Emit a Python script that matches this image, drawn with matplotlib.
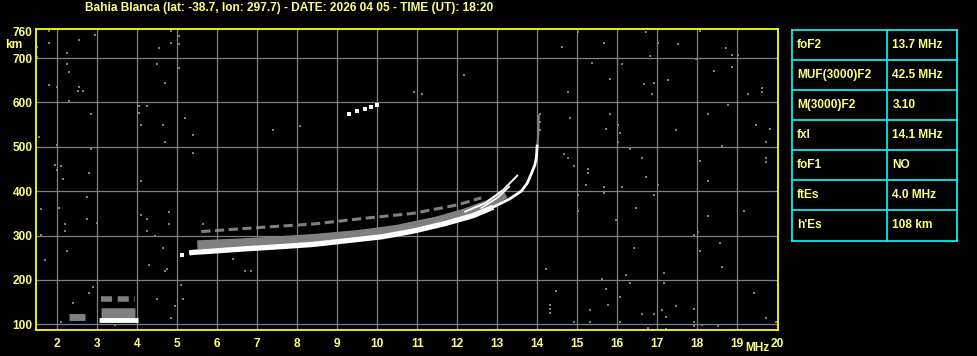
import numpy as np
import matplotlib
matplotlib.use("Agg")
import matplotlib.pyplot as plt

FONT = ['Liberation Sans', 'DejaVu Sans']
YEL = '#ffff80'
FS = 8.6
plt.rcParams['font.family'] = FONT

# ionogram traces (MHz, km)
o_freq = [5.3, 5.4, 5.9, 6.7, 7.6, 8.4, 9.2, 10.1, 10.9, 11.7, 12.4, 12.9, 13.3, 13.6, 13.75, 13.86, 13.94, 13.98, 14.0]
o_height = [261, 262, 265, 270, 275, 280, 288, 297, 310, 327, 345, 364, 382, 400, 418, 441, 459, 477, 505]
x_freq = [12.2, 12.7, 13.15, 13.5]
x_height = [354, 373, 403, 435]
x2_freq = [12.6, 13.0, 13.3]
x2_height = [362, 385, 410]
grey_freq = [5.5, 6.5, 7.5, 8.5, 9.5, 10.5, 11.5, 12.2, 12.8, 13.2]
grey_height = [279, 283, 288, 294, 302, 314, 333, 351, 371, 394]
upper_freq = [5.6, 7.2, 8.4, 9.7, 10.9, 12.0, 12.6]
upper_height = [309, 319, 326, 339, 350, 369, 385]
top_freq = [14.0, 14.03, 14.04]
top_height = [500, 530, 570]
hop_freq = [9.3, 9.5, 9.7, 9.85, 10.0]
hop_height = [575, 580, 585, 589, 594]
es_freq = [3.05, 4.02]
es_height = [110, 110]

# background noise dots
noise_f = [1.79, 1.79, 1.49, 1.49, 2.54, 2.94, 2.24, 2.24, 2.29, 1.79, 1.99, 2.54, 2.51, 2.64, 2.29, 2.84,
           1.54, 1.99, 2.84, 1.94, 2.09, 1.99, 2.79, 2.14, 2.74, 1.59, 2.04, 2.74, 2.99, 2.19, 2.19, 1.59,
           2.24, 1.69, 4.84, 5.04, 4.84, 5.04, 4.54, 4.49, 5.04, 4.69, 4.04, 4.24, 4.04, 4.09, 4.64, 5.19,
           5.39, 7.39, 4.69, 5.39, 4.09, 4.79, 4.09, 4.24, 4.79, 4.24, 4.44, 4.64, 4.29, 4.69, 4.74, 5.64,
           6.39, 6.69, 6.84, 5.09, 5.14, 4.94, 4.84, 4.49, 2.89, 2.79, 2.39, 2.09, 3.44,
           12.18, 10.93, 11.13, 8.08,
           15.03, 16.73, 18.08, 14.63, 15.68, 17.03, 17.53, 18.73, 18.88, 19.03, 16.83, 17.98, 15.38, 16.13,
           18.43, 18.88, 15.83, 17.28, 16.68, 16.93, 14.78, 16.88, 19.28, 19.63, 19.63, 18.78, 14.08, 15.83,
           18.28, 14.83, 14.08, 14.08, 16.03, 15.73, 16.08, 17.48, 19.48, 19.83, 14.03, 16.03, 19.73, 16.33,
           18.63, 14.68, 14.78, 16.63, 18.08, 19.73, 19.73, 14.93, 15.28, 15.28, 16.73, 18.28, 15.23, 15.68,
           16.13, 17.03, 15.68, 15.03, 16.93, 15.03, 16.48, 15.98, 19.18, 18.28, 17.93, 18.03, 18.58, 16.43,
           18.08, 18.63, 14.23, 17.18, 16.23, 15.63, 17.18, 16.33, 14.48, 15.73, 19.43, 16.08, 14.33, 14.33,
           14.33, 17.48, 17.93, 15.33, 15.78, 17.13, 16.63, 16.93, 17.23, 14.93, 15.33, 16.08, 17.93, 18.13,
           18.53, 17.93, 16.76, 17.23, 19.73, 19.98]
noise_h = [762, 735, 726, 703, 740, 753, 712, 686, 668, 640, 636, 636, 627, 627, 604, 573,
           523, 505, 496, 460, 456, 447, 440, 428, 388, 359, 361, 338, 329, 325, 311, 301,
           264, 244, 762, 749, 735, 731, 722, 687, 677, 645, 591, 591, 577, 550, 550, 564,
           526, 539, 512, 487, 424, 352, 347, 338, 325, 311, 298, 271, 234, 221, 225, 325,
           248, 221, 221, 189, 158, 140, 113, 158, 185, 171, 149, 104, 99,
           663, 623, 620, 548,
           758, 758, 762, 726, 735, 735, 731, 722, 708, 708, 704, 699, 690, 686,
           672, 681, 654, 650, 641, 645, 623, 618, 618, 632, 623, 595, 573, 575,
           573, 564, 555, 539, 550, 541, 532, 537, 550, 541, 523, 510, 510, 496,
           501, 483, 474, 474, 469, 474, 465, 456, 451, 442, 433, 424, 415, 410,
           410, 415, 397, 392, 392, 356, 361, 334, 356, 343, 302, 307, 284, 271,
           266, 230, 225, 216, 212, 203, 192, 194, 176, 180, 171, 162, 144, 135,
           126, 140, 135, 131, 144, 131, 124, 122, 117, 106, 104, 104, 104, 99,
           95, 95, 92, 90, 113, 104]

x_ticks = list(range(2, 21))
y_ticks = [100, 200, 300, 400, 500, 600, 700]

title = 'Bahia Blanca (lat: -38.7, lon: 297.7) - DATE: 2026 04 05 - TIME (UT): 18:20'
params = ['foF2', 'MUF(3000)F2', 'M(3000)F2', 'fxI', 'foF1', 'ftEs', "h'Es"]
values = ['13.7 MHz', '42.5 MHz', '3.10', '14.1 MHz', 'NO', '4.0 MHz', '108 km']

fig = plt.figure(figsize=(9.78, 3.56), dpi=100, facecolor='black')
ax = fig.add_axes([35.5 / 978, 1 - 330 / 356, (778 - 35.5) / 978, (330 - 29.3) / 356])
ax.set_facecolor('black')
ax.set_xlim(1.455, 20.02)
ax.set_ylim(87, 765)

# grid
for f in x_ticks[:-1]:
    ax.axvline(f, color='#808080', lw=0.9, zorder=0)
for h in y_ticks:
    ax.axhline(h, color='#808080', lw=0.9, zorder=0)

ax.scatter(noise_f, noise_h, marker='s', s=2.2, color='#808080', lw=0, zorder=1)

# Es layer
ax.plot([2.3, 2.7], [116, 116], color='#808080', lw=5, solid_capstyle='butt', zorder=2)
ax.plot([3.1, 3.95], [124, 124], color='#808080', lw=9, solid_capstyle='butt', zorder=2)
ax.plot([3.1, 3.95], [156, 156], color='#808080', lw=4, ls=(0, (2, 1)), zorder=2)
ax.plot(es_freq, es_height, color='white', lw=3.5, solid_capstyle='butt', zorder=3)

# F2 layer
ax.plot(grey_freq, grey_height, color='#808080', lw=6.5, solid_capstyle='butt', zorder=2)
ax.plot(upper_freq, upper_height, color='#808080', lw=2.2, ls=(0, (3, 1.5)), zorder=2)
ax.plot(top_freq, top_height, color='#808080', lw=1.5, zorder=2)
o_f = np.array(o_freq)
o_h = np.array(o_height)
thick = o_f <= 12.9
ax.plot(o_f[thick], o_h[thick], color='white', lw=3.8, solid_capstyle='butt', zorder=3)
ax.plot(o_f, o_h, color='white', lw=2.0, solid_capstyle='butt', zorder=3)
ax.plot(x_freq, x_height, color='white', lw=1.4, zorder=3)
ax.plot(x2_freq, x2_height, color='white', lw=1.2, zorder=3)
ax.scatter([5.12], [257], marker='s', s=5, color='white', lw=0, zorder=3)
ax.scatter(hop_freq, hop_height, marker='s', s=5, color='white', lw=0, zorder=3)

for sp in ax.spines.values():
    sp.set_color('#ffff00')
    sp.set_linewidth(1.3)
ax.tick_params(length=0, colors=YEL)
ax.set_xticks(x_ticks)
ax.set_xticklabels([str(t) for t in x_ticks], fontsize=FS, fontweight='bold', color=YEL)
ax.set_yticks(y_ticks + [760])
ax.set_yticklabels([str(t) for t in y_ticks + [760]], fontsize=FS, fontweight='bold', color=YEL)
ax.tick_params(axis='x', pad=6)
ax.tick_params(axis='y', pad=2)

fig.text(5 / 978, 1 - 45 / 356, 'km', color=YEL, fontsize=FS, fontweight='bold', va='center', ha='left')
fig.text(745 / 978, 1 - 348 / 356, 'MHz', color=YEL, fontsize=FS, fontweight='bold', va='center', ha='left')
fig.text(85 / 978, 1 - 8 / 356, title, color=YEL, fontsize=FS, fontweight='bold', va='center', ha='left')

# parameter table
tb = fig.add_axes([792 / 978, 1 - 240.5 / 356, (957.5 - 792) / 978, (240.5 - 30.3) / 356])
tb.set_xlim(0, 1)
tb.set_ylim(len(params), 0)
tb.axis('off')
cyan = '#00ffff'
for i in range(len(params) + 1):
    tb.plot([0, 1], [i, i], color=cyan, lw=1.2, clip_on=False)
for x in [0, 95 / 165, 1]:
    tb.plot([x, x], [0, len(params)], color=cyan, lw=1.2, clip_on=False)
for i, (p, v) in enumerate(zip(params, values)):
    tb.text(5 / 165, i + 0.5, p, color=YEL, fontsize=FS, fontweight='bold', va='center')
    tb.text(100 / 165, i + 0.5, v, color=YEL, fontsize=FS, fontweight='bold', va='center')

fig.savefig('out.png', dpi=100, facecolor='black')
